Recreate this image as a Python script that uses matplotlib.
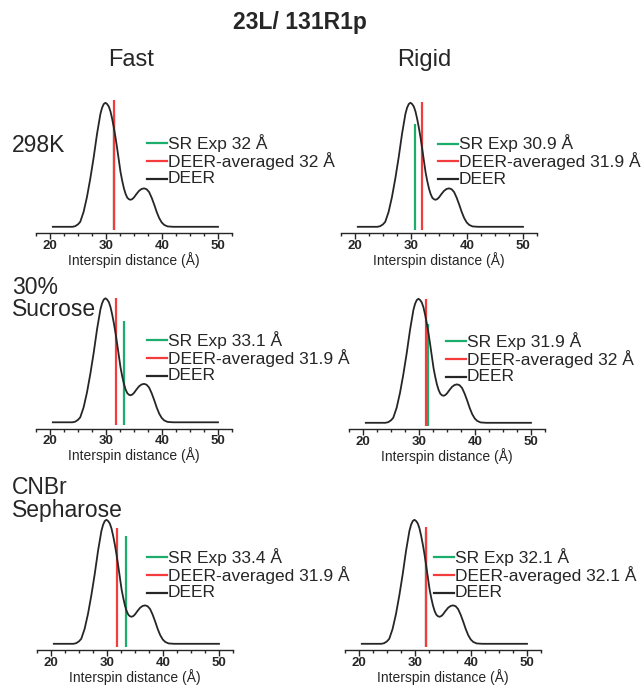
import numpy as np
import matplotlib
matplotlib.use('Agg')
import matplotlib.pyplot as plt
from matplotlib.lines import Line2D

plt.rcParams['font.family'] = ['Liberation Sans', 'DejaVu Sans']

# DEER distance distribution (same curve in every panel)
deer_x = [20.5, 22.0, 24.0, 24.5, 25.0, 25.4, 26.0, 26.6, 27.2, 27.8, 28.4, 29.0,
          29.3, 29.6, 29.9, 30.2, 30.5, 30.8, 31.1, 31.4, 31.7, 32.0, 32.3, 32.6,
          32.9, 33.2, 33.5, 33.8, 34.1, 34.4, 34.7, 35.0, 35.45, 35.9, 36.35, 36.8,
          37.25, 37.7, 38.15, 38.6, 39.05, 39.5, 39.95, 40.4, 41.0, 42.0, 46.0, 50.0]
deer_y = [0.0, 0.0, 0.0, 0.005, 0.02, 0.04, 0.12, 0.24, 0.39, 0.56, 0.75, 0.91,
          0.96, 0.99, 1.0, 0.99, 0.97, 0.93, 0.87, 0.80, 0.72, 0.63, 0.535, 0.44,
          0.37, 0.31, 0.265, 0.235, 0.222, 0.218, 0.224, 0.237, 0.265, 0.29, 0.305, 0.31,
          0.303, 0.28, 0.235, 0.18, 0.12, 0.07, 0.035, 0.015, 0.003, 0.0, 0.0, 0.0]

# panel order: 298K fast, 298K rigid, sucrose fast, sucrose rigid, CNBr fast, CNBr rigid
sr_labels = ['SR Exp 32 Å', 'SR Exp 30.9 Å', 'SR Exp 33.1 Å',
             'SR Exp 31.9 Å', 'SR Exp 33.4 Å', 'SR Exp 32.1 Å']
avg_labels = ['DEER-averaged 32 Å', 'DEER-averaged 31.9 Å', 'DEER-averaged 31.9 Å',
              'DEER-averaged 32 Å', 'DEER-averaged 31.9 Å', 'DEER-averaged 32.1 Å']
sr_pos = [31.5, 30.8, 33.2, 31.65, 33.4, 32.0]
sr_height = [0.9, 0.83, 0.82, 0.80, 0.87, 0.9]
avg_pos = [31.5, 31.9, 31.8, 31.3, 31.8, 32.0]
avg_height = [1.02, 1.01, 1.0, 1.0, 0.93, 0.94]

row_labels = [['298K'], ['30%', 'Sucrose'], ['CNBr', 'Sepharose']]
col_labels = ['Fast', 'Rigid']
title = '23L/ 131R1p'

W, H = 644, 687
fig = plt.figure(figsize=(W / 100, H / 100), dpi=100)

GREEN = '#1aad6c'
RED = '#f53c3c'
DARK = '#262626'

# layout in pixels, same order as the data: (left, spine y), legend anchor (x, first row y)
ax_px = [(36, 233), (341, 233), (36, 428.5), (349, 429), (37, 650), (345, 650)]
leg_px = [(147, 143), (438, 143.5), (147, 340), (446, 341), (147, 557), (434, 557)]
ax_w, ax_h = 196, 136.4
ymin, ymax = -0.05, 1.05

def fx(px):
    return px / W

def fy(py):
    return 1 - py / H

for i in range(6):
    left, spine = ax_px[i]
    ax = fig.add_axes([fx(left), fy(spine), ax_w / W, ax_h / H])
    ax.plot(deer_x, deer_y, color=DARK, lw=1.3, zorder=3)
    ax.vlines(sr_pos[i], -0.025, sr_height[i], color=GREEN, lw=1.6, zorder=2)
    ax.vlines(avg_pos[i], -0.025, avg_height[i], color=RED, lw=1.6, zorder=2)
    ax.set_xlim(17.5, 52.5)
    ax.set_ylim(ymin, ymax)
    ax.set_xticks([20, 30, 40, 50])
    ax.set_xticks(np.arange(17.5, 53, 2.5), minor=True)
    ax.tick_params(axis='x', which='major', length=4, width=1, pad=1, labelsize=9.5,
                   colors=DARK)
    ax.tick_params(axis='x', which='minor', length=2.5, width=1, colors=DARK)
    for lab in ax.get_xticklabels():
        lab.set_fontweight('bold')
    ax.set_yticks([])
    for s in ['top', 'right', 'left']:
        ax.spines[s].set_visible(False)
    ax.spines['bottom'].set_linewidth(1)
    ax.spines['bottom'].set_color(DARK)
    ax.set_xlabel('Interspin distance (Å)', fontsize=10, labelpad=0, color=DARK)

    # legend drawn by hand, rows packed tight like the original
    lx, ly = leg_px[i]
    entries = [(GREEN, sr_labels[i]), (RED, avg_labels[i]), (DARK, 'DEER')]
    for k, (c, lab) in enumerate(entries):
        yy = ly + k * 17.8
        fig.add_artist(Line2D([fx(lx), fx(lx + 20)], [fy(yy), fy(yy)], color=c, lw=1.6))
        fig.text(fx(lx + 21), fy(yy), lab, fontsize=12.5, va='center', ha='left', color=DARK)

fig.text(fx(300), fy(23), title, fontsize=16.5, fontweight='bold', ha='center', va='center',
         color=DARK)
fig.text(fx(131), fy(60), col_labels[0], fontsize=17, ha='center', va='center', color=DARK)
fig.text(fx(424), fy(60), col_labels[1], fontsize=17, ha='center', va='center', color=DARK)

row_y = [[145], [287, 310], [487, 510]]
for lines, ys in zip(row_labels, row_y):
    for t, yy in zip(lines, ys):
        fig.text(fx(12), fy(yy), t, fontsize=16.5, ha='left', va='center', color=DARK)

fig.savefig('out.png', dpi=100)
